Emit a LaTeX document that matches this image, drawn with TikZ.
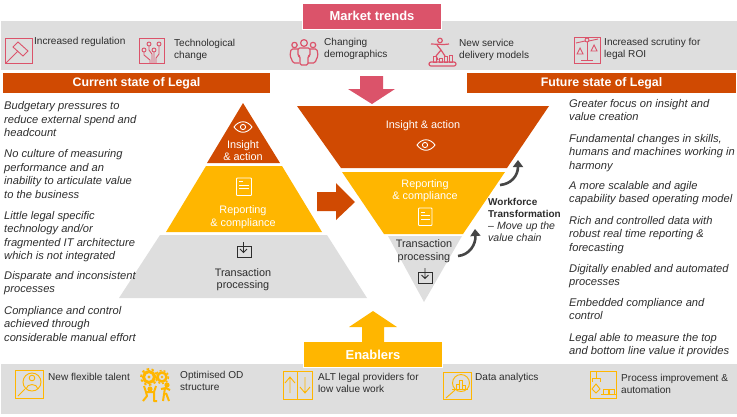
\documentclass[tikz,border=0pt]{standalone}
\usepackage{fontspec}
\setmainfont{Liberation Sans}
\usetikzlibrary{arrows.meta}
\definecolor{pwcorange}{HTML}{D04A02}
\definecolor{pwcyellow}{HTML}{FFB600}
\definecolor{pwcrose}{HTML}{DB536A}
\definecolor{bandgray}{HTML}{DEDEDE}
\definecolor{inkgray}{HTML}{2D2D2D}
\definecolor{arrowgray}{HTML}{464646}
\tikzset{
 x=1bp,y=-1bp,
 band/.style={fill=bandgray,draw=none},
 hdr/.style={fill=pwcorange,draw=none,text=white,font=\fontsize{12.4}{14}\selectfont\bfseries,inner sep=0pt,minimum width=#1,minimum height=20bp,anchor=center},
 tab/.style={draw=white,line width=1bp,text=white,font=\fontsize{13}{15}\selectfont\bfseries,inner sep=0pt,minimum width=139bp,minimum height=26bp},
 para/.style={anchor=north west,align=left,inner sep=0pt,text=inkgray,font=\fontsize{11.2}{13.5}\selectfont\itshape},
 lab/.style={anchor=north west,align=left,inner sep=0pt,text=inkgray,font=\fontsize{10.1}{12}\selectfont},
 lvl/.style={align=center,inner sep=0pt,font=\fontsize{10.9}{12.6}\selectfont},
 ico/.style={draw=pwcrose,line width=0.9bp,fill=none},
 icb/.style={draw=pwcrose,line width=1.2bp,fill=none,line join=round},
 icy/.style={draw=pwcyellow,line width=0.9bp,fill=none},
 wic/.style={draw=white,line width=0.9bp,fill=none},
 dic/.style={draw=inkgray,line width=0.9bp,fill=none},
 curl/.style={draw=arrowgray,line width=2.6bp,-{Triangle[length=7bp,width=10bp]}},
}
\begin{document}
\begin{tikzpicture}
\useasboundingbox (0,0) rectangle (737,416);
% bands
\fill[band] (1,21) rectangle (737,70);
\fill[band] (1,364) rectangle (737,414);
% headers
\node[hdr=267bp] (cur) at (136.5,83) {\raisebox{-1.5bp}{Current state of Legal}};
\node[hdr=269bp] (fut) at (601.5,83) {\raisebox{-1.5bp}{Future state of Legal}};
\node[tab,fill=pwcrose] (mt) at (372,16) {Market trends};
\node[tab,fill=pwcyellow] (en) at (373,354.5) {Enablers};
% arrows
\fill[pwcrose] (360,76)--(383,76)--(383,89)--(395,89)--(372,104)--(348,89)--(360,89)--cycle;
\fill[pwcorange] (317,192)--(336,192)--(336,183)--(355,202)--(336,220)--(336,211)--(317,211)--cycle;
\fill[pwcyellow] (362,342)--(362,327)--(349,327)--(373,311)--(397,327)--(384,327)--(384,342)--cycle;
% left pyramid
\fill[pwcorange] (243,103)--(280,163)--(207,163)--cycle;
\fill[pwcyellow] (206,166)--(282,166)--(322,232)--(166,232)--cycle;
\fill[bandgray] (160,235)--(327,235)--(367,298)--(119,298)--cycle;
\node[lvl,text=white] (l1) at (243,150.5) {Insight\\\& action};
\node[lvl,text=white] (l2) at (243,217) {Reporting\\\& compliance};
\node[lvl,text=inkgray] (l3) at (243,279.5) {Transaction\\processing};
% right funnel
\fill[pwcorange] (297,106)--(549,106)--(507,168)--(341,168)--cycle;
\fill[pwcyellow] (342,172)--(505,172)--(463,234)--(384,234)--cycle;
\fill[bandgray] (388,236)--(462,236)--(424,302)--cycle;
\node[lvl,text=white] (r1) at (423,125.5) {Insight \& action};
\node[lvl,text=white] (r2) at (425,190.5) {Reporting\\\& compliance};
\node[lvl,text=inkgray] (r3) at (424,251) {Transaction\\processing};
% workforce text
\node[anchor=north west,align=left,inner sep=0pt,text=inkgray,font=\fontsize{10.6}{12.2}\selectfont] (wt) at (488,198) {{\fontsize{10}{12.2}\selectfont\textbf{Workforce}}\\{\fontsize{10}{12.2}\selectfont\textbf{Transformation}}\\– \textit{Move up the}\\\textit{value chain}};
% curved arrows
\coordinate (c1a) at (500,185); \coordinate (c1b) at (518,160);
\coordinate (c2a) at (458,256); \coordinate (c2b) at (475,229);
\draw[curl] (c1a) .. controls (511,184) and (518,176) .. (c1b);
\draw[curl] (c2a) .. controls (469,255) and (476,245) .. (c2b);
% left text
\node[para] (p1) at (4,101.5) {Budgetary pressures to\\reduce external spend and\\headcount};
\node[para] (p2) at (4,149.5) {No culture of measuring\\performance and an\\inability to articulate value\\to the business};
\node[para] (p3) at (4,211) {Little legal specific\\technology and/or\\fragmented IT architecture\\which is not integrated};
\node[para] (p4) at (4,271) {Disparate and inconsistent\\processes};
\node[para] (p5) at (4,306) {Compliance and control\\achieved through\\considerable manual effort};
% right text
\node[para] (q1) at (569,99) {Greater focus on insight and\\value creation};
\node[para] (q2) at (569,134) {Fundamental changes in skills,\\humans and machines working in\\harmony};
\node[para] (q3) at (569,181) {A more scalable and agile\\capability based operating model};
\node[para] (q4) at (569,216) {Rich and controlled data with\\robust real time reporting \&\\forecasting};
\node[para] (q5) at (569,264) {Digitally enabled and automated\\processes};
\node[para] (q6) at (569,298) {Embedded compliance and\\control};
\node[para] (q7) at (569,333) {Legal able to measure the top\\and bottom line value it provides};
% top labels
\node[lab] (t1) at (34,37) {Increased regulation};
\node[lab] (t2) at (174,39) {Technological\\change};
\node[lab] (t3) at (324,38.5) {Changing\\demographics};
\node[lab] (t4) at (459,39) {New service\\delivery models};
\node[lab] (t5) at (604,38) {Increased scrutiny for\\legal ROI};
% bottom labels
\node[lab] (b1) at (48,373) {New flexible talent};
\node[lab] (b2) at (180,371) {Optimised OD\\structure};
\node[lab] (b3) at (318,373) {ALT legal providers for\\low value work};
\node[lab] (b4) at (475,373) {Data analytics};
\node[lab] (b5) at (621,374) {Process improvement \&\\automation};
% --- icons, market trends
% gavel
\draw[ico] (5,38) rectangle (32,63);
\draw[ico] (6,63)--(18,51);
\draw[ico] (13,47)--(18,42)--(28,51)--(23,56)--cycle;
% tech
\draw[ico] (139,38) rectangle (164,63);
\draw[ico] (144,50) circle (2) (149,44) circle (2) (154,50) circle (2) (159,44) circle (2);
\draw[ico] (144,52)--(144,55)--(150,60)--(150,63)
           (149,46)--(149,50)--(152,54)--(152,63)
           (154,52)--(154,63)
           (159,46)--(159,54)--(156,58)--(156,63);
% people
\draw[icb] (304,43) circle (3.4) (294.5,45) circle (2.7) (313,45) circle (2.7);
\draw[icb,rounded corners=1.5bp] (298,48)--(310,48)--(310,56)--(308,56)--(308,65)--(300,65)--(300,56)--(298,56)--cycle;
\draw[icb,rounded corners=1.5bp] (298,49)--(291,49)--(290,56)--(292,60)--(293,63)--(299,63);
\draw[icb,rounded corners=1.5bp] (310,49)--(317,49)--(318,56)--(316,60)--(315,63)--(308,63);
% runner
\draw[icb] (440,40.5) circle (2.3);
\draw[icb,rounded corners=1bp] (431,44)--(444,44.5)--(449,44);
\draw[icb] (437,45)--(441,50)--(436,56)--(438,60) (441,50)--(445,56);
\draw[ico] (433,56) rectangle (436,62) (439,58) rectangle (442,62) (444,56) rectangle (447,62) (449,55) rectangle (452,62);
\draw[icb,rounded corners=2bp] (429,62) rectangle (456,66);
% scales
\draw[ico] (574,37) rectangle (600,63);
\draw[ico] (587,40) circle (2);
\draw[ico] (576,43)--(585,41) (589,41)--(598,39);
\draw[ico] (587,42)--(587,60) (581,60)--(593,60);
\draw[ico] (577,54)--(580,48)--(583,54)--cycle (591,51)--(594,45)--(597,51)--cycle;
% --- icons, enablers
% talent
\draw[icy] (15,370) rectangle (43,398);
\draw[icy] (32,382) circle (9);
\draw[icy] (32,378) circle (2.8);
\draw[icy] (26,389) .. controls (27,383) and (37,383) .. (38,389);
\draw[icy] (25,389)--(18,396);
% gears and figures
\draw[pwcyellow,line width=3bp,fill=none] (149,377) circle (5.5);
\draw[pwcyellow,line width=1.8bp,dash pattern=on 2.5bp off 2.5bp] (149,377) circle (8);
\fill[pwcyellow] (149,377) circle (1.6);
\draw[pwcyellow,line width=2.4bp,fill=none] (162,377) circle (4.5);
\draw[pwcyellow,line width=1.4bp,dash pattern=on 2bp off 2bp] (162,377) circle (6.5);
\fill[pwcyellow] (162,377) circle (1.3);
\fill[pwcyellow] (150,389) circle (2.6) (167,385) circle (2.6);
\draw[pwcyellow,line width=2bp,line join=round,fill=none] (144,386)--(146,392)--(154,392)--(156,386) (146,392)--(147,396)--(143,401) (154,392)--(154,401)--(157,401);
\draw[pwcyellow,line width=2bp,line join=round,fill=none] (161,389)--(166,388)--(170,390) (165,388)--(163,401) (166,393)--(169,401);
% alt arrows
\draw[icy] (283,371) rectangle (312,399);
\draw[icy] (297.5,371)--(297.5,399);
\draw[icy] (290,393)--(290,378) (285,383)--(290,377)--(295,383);
\draw[icy] (305,377)--(305,392) (300,387)--(305,393)--(310,387);
% data analytics
\draw[icy] (443,372) rectangle (471,399);
\draw[icy] (461,383) circle (8.5);
\draw[icy] (456,389)--(456,384)--(459,384)--(459,389) (459,389)--(459,380)--(462,380)--(462,389) (462,389)--(462,385)--(465,385)--(465,389);
\draw[icy] (452,389.5)--(468,389.5);
\draw[icy] (455,390)--(446,398);
% process
\draw[icy] (590,371) rectangle (616,398);
\draw[icy] (596,371)--(596,378) (592,382)--(592,378)--(600,378)--(600,382);
\draw[icy] (596,384)--(600,389)--(596,393)--(592,389)--cycle;
\draw[icy] (601,394)--(616,394);
\draw[icy] (603,389) rectangle (608,394) (609,389) rectangle (614,394);
% --- level icons
% eye left
\draw[wic] (234,127) .. controls (239,120) and (247,120) .. (252,127) .. controls (247,134) and (239,134) .. (234,127) -- cycle;
\draw[wic] (243,127) circle (2.6);
% eye right
\draw[wic] (417,145) .. controls (422,138) and (430,138) .. (435,145) .. controls (430,152) and (422,152) .. (417,145) -- cycle;
\draw[wic] (425,145) circle (2.6);
% doc left
\draw[wic,rounded corners=0.8bp] (236.5,178) rectangle (251.5,195.5);
\draw[wic] (239,181.5)--(243,181.5) (239,185)--(249,185) (239,188.5)--(249,188.5);
% doc right
\draw[wic,rounded corners=0.8bp] (418.5,208) rectangle (432,225.5);
\draw[wic] (421,212)--(425,212) (421,215.5)--(430,215.5) (421,219)--(430,219);
% inbox left
\draw[dic] (237,246) rectangle (251,257);
\draw[dic] (243.5,242)--(243.5,252) (240,249)--(243.5,252.5)--(247,249);
% inbox right
\draw[dic] (418,272) rectangle (432,283);
\draw[dic] (425,268)--(425,278) (421.5,275)--(425,278.5)--(428.5,275);
\end{tikzpicture}
\end{document}
